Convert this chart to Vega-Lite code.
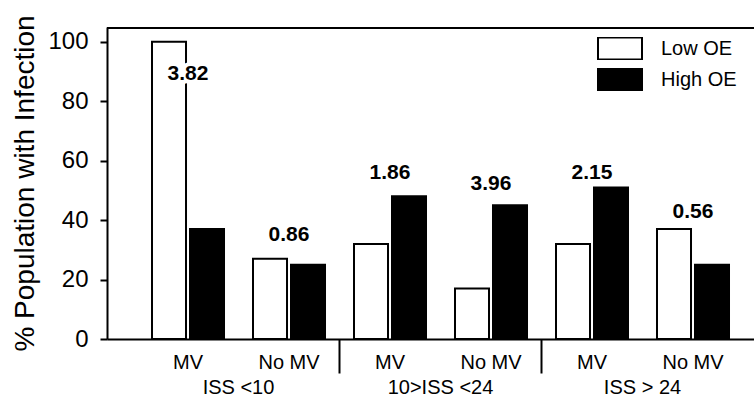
{
  "$schema": "https://vega.github.io/schema/vega-lite/v6.json",
  "width": 647,
  "height": 312,
  "autosize": {"type": "none"},
  "padding": {"left": 107, "top": 27, "right": 0, "bottom": 57},
  "background": "white",
  "config": {
    "view": {"stroke": null},
    "font": "Liberation Sans",
    "axis": {"domainColor": "black", "tickColor": "black", "labelColor": "black", "titleColor": "black", "grid": false}
  },
  "datasets": {
    "bars": [
      {"key": "ISS <10|MV", "oe": "Low OE", "value": 100},
      {"key": "ISS <10|MV", "oe": "High OE", "value": 37},
      {"key": "ISS <10|No MV", "oe": "Low OE", "value": 27},
      {"key": "ISS <10|No MV", "oe": "High OE", "value": 25},
      {"key": "10>ISS <24|MV", "oe": "Low OE", "value": 32},
      {"key": "10>ISS <24|MV", "oe": "High OE", "value": 48},
      {"key": "10>ISS <24|No MV", "oe": "Low OE", "value": 17},
      {"key": "10>ISS <24|No MV", "oe": "High OE", "value": 45},
      {"key": "ISS > 24|MV", "oe": "Low OE", "value": 32},
      {"key": "ISS > 24|MV", "oe": "High OE", "value": 51},
      {"key": "ISS > 24|No MV", "oe": "Low OE", "value": 37},
      {"key": "ISS > 24|No MV", "oe": "High OE", "value": 25}
    ],
    "ann": [
      {"key": "ISS <10|MV", "ratio": "3.82", "label_y": 87},
      {"key": "ISS <10|No MV", "ratio": "0.86", "label_y": 33},
      {"key": "10>ISS <24|MV", "ratio": "1.86", "label_y": 54},
      {"key": "10>ISS <24|No MV", "ratio": "3.96", "label_y": 50},
      {"key": "ISS > 24|MV", "ratio": "2.15", "label_y": 54},
      {"key": "ISS > 24|No MV", "ratio": "0.56", "label_y": 40.7}
    ],
    "groups": [
      {"group": "ISS <10"},
      {"group": "10>ISS <24"},
      {"group": "ISS > 24"}
    ],
    "frame": [
      {"edge": "top", "lo": 104.35, "hi": 105}
    ]
  },
  "layer": [
    {
      "data": {"name": "bars"},
      "mark": {"type": "bar", "stroke": "black", "strokeWidth": 2},
      "encoding": {
        "x": {
          "field": "key", "type": "nominal", "sort": null,
          "scale": {"type": "band", "paddingInner": 0, "paddingOuter": 0.203, "align": 0.744},
          "axis": {
            "orient": "bottom",
            "title": null, "bandPosition": 0,
            "labelExpr": "split(datum.label, '|')[1]",
            "labelFontSize": 20, "labelAngle": 0, "labelPadding": -21,
            "domain": true, "domainWidth": 2, "tickWidth": 2, "tickSize": 34,
            "tickOpacity": {"condition": {"test": "datum.value === '10>ISS <24|MV' || datum.value === 'ISS > 24|MV'", "value": 1}, "value": 0}
          }
        },
        "xOffset": {
          "field": "oe", "type": "nominal",
          "scale": {"domain": ["Low OE", "High OE"], "paddingInner": 0.105, "paddingOuter": 0.3815}
        },
        "y": {
          "field": "value", "type": "quantitative",
          "scale": {"domain": [0, 105], "nice": false},
          "axis": {
            "values": [0, 20, 40, 60, 80, 100],
            "title": "% Population with Infection",
            "titleFontSize": 28, "titleFontWeight": "normal", "titlePadding": 8,
            "labelFontSize": 24, "labelPadding": 12,
            "domain": true, "tickSize": 7, "tickWidth": 2, "domainWidth": 2
          }
        },
        "fill": {
          "field": "oe", "type": "nominal",
          "scale": {"domain": ["Low OE", "High OE"], "range": ["white", "black"]},
          "legend": {
            "title": null, "orient": "none", "legendX": 490, "legendY": 10,
            "symbolType": "M-1,-0.5H1V0.5H-1Z", "symbolSize": 1936,
            "symbolStrokeColor": "black", "symbolStrokeWidth": 2,
            "labelFontSize": 20, "labelOffset": 18, "labelColor": "black",
            "clipHeight": 23, "rowPadding": 8, "padding": 0
          }
        }
      }
    },
    {
      "data": {"name": "groups"},
      "mark": {"type": "point", "opacity": 0},
      "encoding": {
        "x": {
          "field": "group", "type": "nominal", "sort": null,
          "scale": {"type": "band", "paddingInner": 0, "paddingOuter": 0.1015, "align": 0.744},
          "axis": {"orient": "bottom", "title": null, "domain": false, "ticks": false, "tickSize": 0, "labelAngle": 0, "labelFontSize": 20, "labelPadding": 38}
        },
        "y": {"datum": 0, "type": "quantitative", "scale": {"domain": [0, 105], "nice": false}}
      }
    },
    {
      "data": {"name": "frame"},
      "mark": {"type": "bar", "color": "black"},
      "encoding": {
        "x": {"field": "edge", "type": "nominal", "scale": {"type": "band", "paddingInner": 0, "paddingOuter": 0}, "axis": null},
        "y": {"field": "lo", "type": "quantitative", "scale": {"domain": [0, 105], "nice": false}},
        "y2": {"field": "hi"}
      }
    },
    {
      "data": {"name": "ann"},
      "mark": {"type": "text", "fontSize": 21, "fontWeight": "bold", "baseline": "alphabetic", "fill": "white", "stroke": "white", "strokeWidth": 8, "strokeJoin": "round"},
      "encoding": {
        "x": {"field": "key", "type": "nominal", "sort": null, "scale": {"type": "band", "paddingInner": 0, "paddingOuter": 0.203, "align": 0.744}, "axis": null},
        "y": {"field": "label_y", "type": "quantitative", "scale": {"domain": [0, 105], "nice": false}},
        "text": {"field": "ratio"}
      }
    },
    {
      "data": {"name": "ann"},
      "mark": {"type": "text", "fontSize": 21, "fontWeight": "bold", "baseline": "alphabetic", "color": "black"},
      "encoding": {
        "x": {"field": "key", "type": "nominal", "sort": null, "scale": {"type": "band", "paddingInner": 0, "paddingOuter": 0.203, "align": 0.744}, "axis": null},
        "y": {"field": "label_y", "type": "quantitative", "scale": {"domain": [0, 105], "nice": false}},
        "text": {"field": "ratio"}
      }
    }
  ],
  "resolve": {"scale": {"x": "independent"}, "axis": {"x": "independent"}}
}
